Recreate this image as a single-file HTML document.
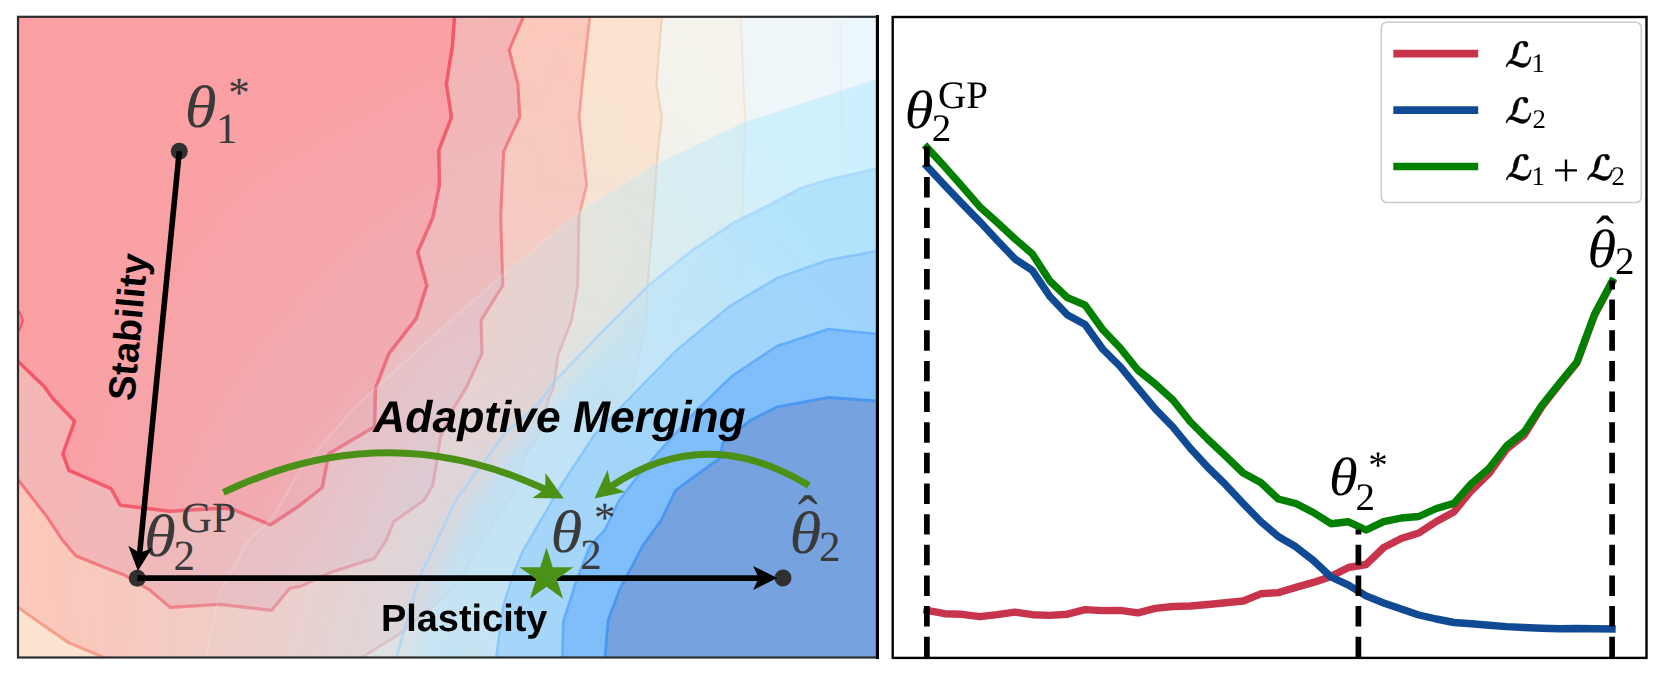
<!DOCTYPE html>
<html><head><meta charset="utf-8"><title>Adaptive Merging figure</title>
<style>html,body{margin:0;padding:0;background:#fff;overflow:hidden}svg{display:block}text{text-rendering:geometricPrecision}</style></head>
<body>
<svg width="1661" height="676" viewBox="0 0 1661 676">
<defs>
<clipPath id="cl"><rect x="18" y="17" width="860" height="641"/></clipPath>
<filter id="blur" x="-20%" y="-20%" width="140%" height="140%"><feGaussianBlur stdDeviation="14"/></filter>
<linearGradient id="hzg" gradientUnits="userSpaceOnUse" x1="430" y1="0" x2="760" y2="0"><stop offset="0" stop-color="#fff"/><stop offset="1" stop-color="#000"/></linearGradient>
<mask id="hz" maskUnits="userSpaceOnUse" x="-300" y="-300" width="1800" height="1500"><rect x="-300" y="-300" width="1800" height="1500" fill="url(#hzg)"/></mask>
<linearGradient id="sg1" gradientUnits="userSpaceOnUse" x1="550" y1="410" x2="750" y2="210"><stop offset="0" stop-color="#fff"/><stop offset="1" stop-color="#000"/></linearGradient>
<linearGradient id="sg2" gradientUnits="userSpaceOnUse" x1="550" y1="410" x2="750" y2="210"><stop offset="0" stop-color="#000"/><stop offset="1" stop-color="#fff"/></linearGradient>
<mask id="mSoft" maskUnits="userSpaceOnUse" x="-300" y="-300" width="1800" height="1500"><rect x="-300" y="-300" width="1800" height="1500" fill="url(#sg1)"/></mask>
<mask id="mSharp" maskUnits="userSpaceOnUse" x="-300" y="-300" width="1800" height="1500"><rect x="-300" y="-300" width="1800" height="1500" fill="url(#sg2)"/></mask>
<filter id="blur2" x="-20%" y="-20%" width="140%" height="140%"><feGaussianBlur stdDeviation="11"/></filter>
<linearGradient id="gB0" gradientUnits="userSpaceOnUse" x1="300" y1="560" x2="800" y2="160"><stop offset="0" stop-color="#c0e4f6" stop-opacity="0.03"/><stop offset="0.45" stop-color="#b8e6fa" stop-opacity="0.12"/><stop offset="1" stop-color="#aeeafd" stop-opacity="0.5"/></linearGradient>
<linearGradient id="gLa" gradientUnits="userSpaceOnUse" x1="420" y1="620" x2="840" y2="230"><stop offset="0" stop-color="#c0e4f6" stop-opacity="0.82"/><stop offset="1" stop-color="#afe1fd" stop-opacity="0.9"/></linearGradient>
<linearGradient id="gLb" gradientUnits="userSpaceOnUse" x1="520" y1="620" x2="850" y2="300"><stop offset="0" stop-color="#a3d4f9" stop-opacity="0.92"/><stop offset="1" stop-color="#9ed4fc" stop-opacity="0.95"/></linearGradient>
</defs>
<rect width="1661" height="676" fill="#fff"/>
<g id="root" opacity="0.9999">
<g clip-path="url(#cl)">
<rect x="0" y="0" width="900" height="680" fill="#ebf6fd"/>
<path d="M840.0,10.0 L841.0,120.0 L839.0,250.0 L836.0,330.0 L836.0,680.0 L0.0,680.0 L0.0,0.0 Z" fill="#eff6fa"/>
<path d="M740.9,10.0 L740.9,17.0 L743.3,84.0 L745.4,118.7 L742.4,214.0 L737.9,276.4 L731.9,324.7 L722.0,390.0 L705.0,450.0 L680.0,510.0 L660.0,560.0 L645.0,610.0 L638.0,662.0 L0.0,680.0 L0.0,0.0 Z" fill="#f5f3ec"/>
<path d="M661.8,10.0 L661.8,17.0 L656.4,84.0 L661.8,117.2 L657.9,151.9 L653.4,214.0 L647.4,288.5 L645.8,324.7 L632.3,391.1 L629.2,408.0 L622.0,437.0 L615.0,470.0 L598.0,505.0 L575.0,540.0 L556.0,575.0 L535.0,610.0 L520.0,657.0 L518.0,662.0 L0.0,680.0 L0.0,0.0 Z" fill="#fde4cf"/>
<path d="M589.8,10.0 L589.8,17.0 L582.2,85.5 L579.2,117.2 L586.7,185.1 L579.0,216.0 L577.7,285.5 L571.7,320.2 L558.1,354.9 L553.5,388.1 L549.0,398.0 L538.5,437.2 L524.9,453.8 L517.3,488.6 L493.2,521.8 L473.6,556.5 L467.0,566.2 L454.9,586.3 L432.8,606.4 L398.6,634.6 L362.4,657.0 L355.0,662.0 L112.0,662.0 L102.6,657.0 L68.4,642.6 L42.2,624.5 L18.0,607.4 L10.0,602.0 L0.0,0.0 Z" fill="#fdc8bb"/>
<path d="M523.4,10.0 L523.4,17.0 L509.2,49.8 L517.9,84.0 L519.7,117.2 L503.7,151.3 L500.7,216.0 L502.8,285.5 L481.1,320.2 L482.0,353.4 L466.0,388.1 L453.9,408.0 L440.4,437.2 L432.8,485.5 L423.8,500.6 L393.6,521.8 L386.5,540.0 L374.2,558.5 L330.2,572.6 L300.0,586.6 L289.7,588.3 L271.6,610.4 L219.3,604.4 L170.0,607.4 L148.8,589.3 L122.7,574.2 L111.0,570.0 L76.0,556.0 L62.3,540.0 L46.2,515.7 L19.0,481.0 L10.0,470.0 L0.0,0.0 Z" fill="#f6b4b4"/>
<path d="M454.5,10.0 L454.5,17.0 L452.4,46.2 L446.4,84.0 L451.5,117.2 L438.8,150.4 L439.4,185.1 L432.8,217.6 L417.7,252.3 L426.8,285.5 L416.2,318.7 L389.0,353.4 L375.5,388.1 L374.5,426.7 L328.7,453.8 L322.3,487.5 L300.0,505.2 L270.5,524.8 L232.0,509.0 L221.3,508.2 L170.0,511.2 L120.2,505.2 L111.1,488.6 L68.9,470.4 L62.8,453.8 L74.6,421.2 L52.3,398.0 L44.2,386.6 L19.0,362.4 L10.0,354.0 L0.0,0.0 Z" fill="#fc9fa3"/>
<path d="M10,311 L19,311 L23.2,320.2 L19,331.2 L10,331 Z" fill="#f88" stroke="#f5495b" stroke-width="1.5"/>
<path d="M840.0,10.0 L841.0,120.0 L839.0,250.0 L836.0,330.0" fill="none" stroke="#f0d8c8" stroke-width="1.5" stroke-opacity="0.25" stroke-linejoin="round"/>
<path d="M740.9,10.0 L740.9,17.0 L743.3,84.0 L745.4,118.7 L742.4,214.0 L737.9,276.4 L731.9,324.7 L722.0,390.0 L705.0,450.0 L680.0,510.0 L660.0,560.0 L645.0,610.0 L638.0,662.0" fill="none" stroke="#f0c8a8" stroke-width="2" stroke-opacity="0.3" stroke-linejoin="round"/>
<path d="M661.8,10.0 L661.8,17.0 L656.4,84.0 L661.8,117.2 L657.9,151.9 L653.4,214.0 L647.4,288.5 L645.8,324.7 L632.3,391.1 L629.2,408.0 L622.0,437.0 L615.0,470.0 L598.0,505.0 L575.0,540.0 L556.0,575.0 L535.0,610.0 L520.0,657.0 L518.0,662.0" fill="none" stroke="#f2b090" stroke-width="2.2" stroke-opacity="0.45" stroke-linejoin="round"/>
<path d="M589.8,10.0 L589.8,17.0 L582.2,85.5 L579.2,117.2 L586.7,185.1 L579.0,216.0 L577.7,285.5 L571.7,320.2 L558.1,354.9 L553.5,388.1 L549.0,398.0 L538.5,437.2 L524.9,453.8 L517.3,488.6 L493.2,521.8 L473.6,556.5 L467.0,566.2 L454.9,586.3 L432.8,606.4 L398.6,634.6 L362.4,657.0 L355.0,662.0" fill="none" stroke="#f4766c" stroke-width="2.8" stroke-opacity="0.6" stroke-linejoin="round"/>
<path d="M10.0,602.0 L18.0,607.4 L42.2,624.5 L68.4,642.6 L102.6,657.0 L112.0,662.0" fill="none" stroke="#f58a70" stroke-width="3.0" stroke-opacity="0.75" stroke-linejoin="round"/>
<path d="M523.4,10.0 L523.4,17.0 L509.2,49.8 L517.9,84.0 L519.7,117.2 L503.7,151.3 L500.7,216.0 L502.8,285.5 L481.1,320.2 L482.0,353.4 L466.0,388.1 L453.9,408.0 L440.4,437.2 L432.8,485.5 L423.8,500.6 L393.6,521.8 L386.5,540.0 L374.2,558.5 L330.2,572.6 L300.0,586.6 L289.7,588.3 L271.6,610.4 L219.3,604.4 L170.0,607.4 L148.8,589.3 L122.7,574.2 L111.0,570.0 L76.0,556.0 L62.3,540.0 L46.2,515.7 L19.0,481.0 L10.0,470.0" fill="none" stroke="#f44d58" stroke-width="3.1" stroke-opacity="0.66" stroke-linejoin="round"/>
<path d="M454.5,10.0 L454.5,17.0 L452.4,46.2 L446.4,84.0 L451.5,117.2 L438.8,150.4 L439.4,185.1 L432.8,217.6 L417.7,252.3 L426.8,285.5 L416.2,318.7 L389.0,353.4 L375.5,388.1 L374.5,426.7 L328.7,453.8 L322.3,487.5 L300.0,505.2 L270.5,524.8 L232.0,509.0 L221.3,508.2 L170.0,511.2 L120.2,505.2 L111.1,488.6 L68.9,470.4 L62.8,453.8 L74.6,421.2 L52.3,398.0 L44.2,386.6 L19.0,362.4 L10.0,354.0" fill="none" stroke="#f53c50" stroke-width="3.5" stroke-opacity="0.8" stroke-linejoin="round"/>
<g filter="url(#blur)" mask="url(#hz)">
<path d="M40.6,742.0 L40.0,722.1 L39.4,702.3 L38.8,682.4 L38.2,662.6 L35.1,642.6 L31.1,622.5 L26.5,602.4 L25.5,582.2 L22.8,561.0 L20.1,539.8 L17.0,518.3 L11.3,494.7 L11.2,473.1 L14.5,453.1 L17.8,433.0 L20.0,412.2 L21.4,390.8 L24.9,370.2 L32.2,351.3 L39.1,332.0 L45.4,312.0 L51.7,292.1 L58.0,272.2 L67.3,254.3 L79.0,238.0 L90.6,221.8 L102.2,205.4 L113.7,189.0 L125.2,172.5 L137.3,156.7 L154.1,146.1 L170.9,135.5 L188.8,126.4 L206.6,117.4 L224.7,108.7 L242.5,99.7 L260.1,90.5 L277.6,81.2 L295.2,71.9 L312.6,62.4 L330.9,54.8 L349.7,48.4 L368.6,42.1 L387.4,35.7 L406.2,29.1 L424.5,21.4 L442.8,13.6 L461.1,5.9 L479.4,-1.7 L497.8,-9.3 L516.2,-16.8 L534.6,-24.2 L553.2,-31.0 L572.7,-35.1 L592.1,-39.1 L611.5,-43.2 L630.9,-47.2 L650.4,-51.3 L669.8,-55.3 L1200.0,-55.3 L1200.0,900.0 L40.6,900.0 Z" fill="#c6e0f2" fill-opacity="0.0400"/>
<path d="M90.1,742.0 L90.0,722.3 L89.9,702.6 L89.8,682.9 L89.7,663.2 L88.5,643.5 L86.9,623.7 L85.1,604.0 L86.0,584.3 L87.0,564.4 L88.1,544.5 L89.1,524.6 L89.6,504.3 L93.1,484.7 L98.4,465.6 L103.7,446.6 L108.7,427.4 L113.6,408.1 L120.0,389.4 L128.9,371.7 L137.8,354.1 L146.6,336.3 L155.4,318.5 L164.2,300.7 L175.0,284.3 L187.5,269.0 L200.0,253.8 L212.5,238.5 L224.9,223.2 L237.4,207.9 L250.3,193.0 L266.5,181.9 L282.8,170.8 L299.8,160.7 L316.7,150.7 L333.9,140.9 L351.1,131.4 L368.4,121.8 L385.6,112.2 L402.8,102.7 L420.0,93.0 L438.1,85.2 L456.5,78.3 L475.0,71.4 L493.4,64.4 L511.8,57.4 L530.2,50.2 L548.5,43.0 L566.9,35.8 L585.2,28.7 L603.6,21.6 L622.0,14.6 L640.4,7.6 L659.1,1.3 L678.4,-2.7 L697.7,-6.7 L716.9,-10.7 L736.2,-14.8 L755.5,-18.8 L774.8,-22.8 L1200.0,-22.8 L1200.0,900.0 L90.1,900.0 Z" fill="#c6e0f2" fill-opacity="0.0521"/>
<path d="M139.6,742.0 L140.0,722.4 L140.4,702.9 L140.7,683.3 L141.1,663.8 L141.9,644.4 L142.7,625.0 L143.8,605.6 L146.5,586.4 L151.3,567.8 L156.1,549.3 L161.1,530.9 L167.8,513.8 L175.1,496.3 L182.3,478.2 L189.5,460.2 L197.5,442.6 L205.8,425.4 L215.0,408.5 L225.7,392.2 L236.5,376.1 L247.8,360.5 L259.1,344.8 L270.3,329.1 L282.8,314.3 L296.1,300.0 L309.4,285.7 L322.8,271.5 L336.2,257.4 L349.6,243.2 L363.3,229.3 L379.0,217.7 L394.7,206.0 L410.8,195.0 L426.9,183.9 L443.0,173.0 L459.8,163.0 L476.7,153.1 L493.6,143.3 L510.5,133.4 L527.4,123.7 L545.3,115.7 L563.3,108.2 L581.3,100.7 L599.4,93.1 L617.5,85.8 L635.9,79.1 L654.2,72.4 L672.6,65.7 L691.0,59.1 L709.4,52.5 L727.8,46.0 L746.3,39.4 L764.9,33.6 L784.1,29.6 L803.2,25.7 L822.4,21.7 L841.5,17.7 L860.7,13.7 L879.8,9.7 L1200.0,9.7 L1200.0,900.0 L139.6,900.0 Z" fill="#c6e0f2" fill-opacity="0.0769"/>
<path d="M189.1,742.0 L190.0,722.6 L190.8,703.2 L191.7,683.8 L192.5,664.4 L195.3,645.3 L198.5,626.2 L202.5,607.3 L207.0,588.5 L215.6,571.2 L224.2,554.0 L233.2,537.1 L246.0,523.3 L257.1,507.9 L266.3,490.8 L275.4,473.7 L286.2,457.8 L298.1,442.7 L310.1,427.6 L322.4,412.7 L335.2,398.2 L349.0,384.7 L362.8,371.2 L376.5,357.6 L390.5,344.2 L404.7,331.0 L418.8,317.7 L433.1,304.6 L447.4,291.5 L461.8,278.5 L476.3,265.6 L491.4,253.5 L506.6,241.3 L521.8,229.3 L537.0,217.2 L552.2,205.2 L568.4,194.6 L585.0,184.5 L601.5,174.3 L618.1,164.1 L634.9,154.4 L652.5,146.2 L670.1,138.1 L687.7,130.0 L705.3,121.8 L723.1,114.1 L741.5,107.9 L760.0,101.8 L778.4,95.7 L796.8,89.6 L815.2,83.4 L833.6,77.3 L852.1,71.2 L870.7,66.0 L889.8,62.0 L908.8,58.0 L927.8,54.1 L946.8,50.1 L965.8,46.2 L984.8,42.2 L1200.0,42.2 L1200.0,900.0 L189.1,900.0 Z" fill="#c6e0f2" fill-opacity="0.0833"/>
<path d="M225.4,742.0 L226.4,723.1 L227.4,704.2 L228.4,685.3 L229.4,666.4 L232.4,647.7 L236.2,629.2 L240.9,610.8 L245.8,592.6 L254.6,575.9 L263.5,559.2 L272.8,542.9 L286.2,529.7 L297.5,514.8 L306.7,498.3 L316.0,481.8 L326.8,466.4 L339.1,452.0 L351.4,437.6 L363.7,423.2 L376.5,409.3 L390.2,396.3 L404.2,383.6 L418.3,370.9 L432.3,358.2 L446.0,345.2 L459.8,332.2 L473.8,319.5 L487.9,306.9 L502.0,294.3 L516.3,281.8 L530.8,269.7 L545.3,257.5 L559.8,245.4 L574.3,233.2 L588.9,221.2 L604.6,210.6 L620.5,200.4 L636.5,190.3 L652.5,180.2 L668.8,170.6 L685.8,162.3 L702.9,154.2 L720.0,146.1 L737.1,137.9 L754.3,130.1 L772.2,124.1 L790.3,118.3 L808.3,112.5 L826.3,106.8 L844.4,101.2 L862.5,95.5 L880.5,89.9 L898.8,85.0 L917.3,81.1 L935.9,77.3 L954.4,73.4 L972.9,69.6 L991.5,65.7 L1010.0,61.8 L1200.0,61.8 L1200.0,900.0 L225.4,900.0 Z" fill="#c6e0f2" fill-opacity="0.0909"/>
<path d="M272.3,742.0 L273.4,724.0 L274.5,705.9 L275.5,687.9 L276.6,669.9 L279.1,652.0 L283.1,634.4 L287.7,616.9 L292.4,599.5 L299.9,583.2 L307.7,567.0 L315.8,551.0 L327.4,537.5 L337.4,522.8 L345.9,506.9 L354.4,490.9 L364.1,475.9 L375.6,461.9 L387.0,448.0 L398.5,434.0 L410.3,420.4 L422.8,407.5 L436.1,395.3 L449.7,383.4 L462.8,371.1 L475.4,358.2 L488.0,345.3 L501.2,333.0 L514.4,320.7 L527.6,308.4 L540.9,296.2 L554.5,284.3 L568.1,272.4 L581.6,260.6 L595.2,248.7 L609.2,237.2 L623.9,226.8 L638.8,216.6 L653.9,206.7 L669.1,197.0 L684.5,187.6 L700.5,179.2 L716.7,171.4 L733.0,163.5 L749.3,155.6 L765.6,147.9 L782.5,141.9 L799.8,136.4 L817.0,131.1 L834.4,126.1 L851.7,121.0 L869.0,116.0 L886.4,111.1 L903.9,106.7 L921.6,103.0 L939.3,99.3 L956.9,95.6 L974.6,91.9 L992.3,88.3 L1010.0,84.6 L1200.0,84.6 L1200.0,900.0 L272.3,900.0 Z" fill="#c6e0f2" fill-opacity="0.1286"/>
<path d="M319.2,742.0 L320.3,724.8 L321.5,707.7 L322.7,690.5 L323.8,673.4 L325.8,656.3 L330.0,639.6 L334.4,623.0 L339.0,606.5 L345.2,590.6 L351.9,574.8 L358.7,559.2 L368.5,545.4 L377.2,530.8 L385.0,515.4 L392.8,500.1 L401.3,485.3 L412.0,471.8 L422.6,458.4 L433.3,444.9 L444.1,431.6 L455.4,418.7 L468.0,407.0 L481.0,395.8 L493.4,384.0 L504.8,371.2 L516.2,358.5 L528.5,346.5 L540.9,334.5 L553.2,322.5 L565.6,310.6 L578.2,299.0 L590.9,287.3 L603.5,275.7 L616.1,264.1 L629.5,253.2 L643.2,242.9 L657.1,232.8 L671.2,223.1 L685.7,213.7 L700.2,204.6 L715.1,196.1 L730.6,188.5 L746.0,181.0 L761.4,173.3 L776.8,165.7 L792.8,159.6 L809.3,154.5 L825.8,149.7 L842.4,145.3 L859.0,140.8 L875.6,136.5 L892.2,132.3 L909.0,128.4 L925.8,124.9 L942.6,121.4 L959.5,117.9 L976.3,114.3 L993.2,110.8 L1010.0,107.3 L1200.0,107.3 L1200.0,900.0 L319.2,900.0 Z" fill="#c6e0f2" fill-opacity="0.1639"/>
<path d="M366.1,742.0 L367.3,725.7 L368.6,709.4 L369.8,693.1 L371.0,676.9 L372.5,660.6 L376.8,644.9 L381.2,629.1 L385.6,613.4 L390.5,597.9 L396.1,582.6 L401.7,567.3 L409.7,553.2 L417.1,538.8 L424.1,524.0 L431.2,509.3 L438.6,494.8 L448.4,481.8 L458.2,468.7 L468.1,455.7 L478.0,442.7 L488.0,429.9 L499.9,418.8 L512.4,408.3 L524.0,396.9 L534.2,384.2 L544.5,371.6 L555.9,359.9 L567.3,348.3 L578.8,336.6 L590.2,325.0 L602.0,313.6 L613.7,302.2 L625.4,290.9 L637.1,279.5 L649.7,269.2 L662.5,259.1 L675.4,249.0 L688.6,239.5 L702.3,230.5 L715.9,221.5 L729.8,213.0 L744.4,205.7 L759.1,198.5 L773.6,191.0 L788.1,183.5 L803.1,177.4 L818.8,172.6 L834.5,168.3 L850.4,164.5 L866.2,160.6 L882.2,157.1 L898.1,153.5 L914.1,150.1 L930.0,146.7 L946.0,143.4 L962.0,140.1 L978.0,136.7 L994.0,133.4 L1010.0,130.1 L1200.0,130.1 L1200.0,900.0 L366.1,900.0 Z" fill="#c6e0f2" fill-opacity="0.1569"/>
<path d="M403.6,742.0 L404.9,726.4 L406.2,710.8 L407.5,695.2 L408.8,679.6 L409.9,664.0 L414.3,649.0 L418.6,634.0 L422.9,619.0 L426.8,603.8 L431.4,588.8 L436.0,573.8 L442.6,559.5 L449.0,545.1 L455.5,530.9 L461.9,516.7 L468.4,502.4 L477.6,489.7 L486.7,477.0 L495.9,464.4 L505.0,451.6 L514.0,438.8 L525.4,428.2 L537.5,418.3 L548.5,407.3 L557.7,394.6 L567.1,382.1 L577.8,370.7 L588.5,359.3 L599.2,347.9 L610.0,336.5 L620.9,325.3 L631.9,314.2 L642.8,303.0 L653.8,291.8 L665.9,282.0 L678.0,272.0 L690.0,261.9 L702.5,252.6 L715.5,243.9 L728.5,235.1 L741.5,226.5 L755.5,219.5 L769.5,212.4 L783.3,205.2 L797.1,197.7 L811.4,191.6 L826.4,187.1 L841.5,183.2 L856.8,179.8 L872.1,176.5 L887.4,173.5 L902.8,170.5 L918.1,167.4 L933.4,164.2 L948.8,161.0 L964.1,157.8 L979.4,154.7 L994.7,151.5 L1010.0,148.3 L1200.0,148.3 L1200.0,900.0 L403.6,900.0 Z" fill="#c6e0f2" fill-opacity="0.0698"/>
</g>
<path d="M205.0,662.0 L206.0,657.0 L211.0,630.0 L221.0,590.0 L249.0,540.0 L272.0,519.0 L300.0,470.0 L354.0,408.0 L451.0,320.0 L499.0,278.0 L582.0,210.0 L656.0,164.0 L745.0,122.0 L877.0,79.0 L890.0,75.0 L900.0,75.0 L900.0,680.0 L205.0,680.0 Z" fill="url(#gB0)"/>
<g mask="url(#mSoft)"><g filter="url(#blur2)"><path d="M405.7,742.0 L406.7,726.5 L407.8,710.9 L408.9,695.4 L410.0,679.9 L411.1,664.3 L414.8,649.3 L418.7,634.2 L422.6,619.2 L426.6,604.1 L431.1,589.2 L436.0,574.5 L442.7,560.4 L449.1,546.3 L455.6,532.1 L462.3,518.1 L469.1,504.1 L478.2,491.4 L487.2,478.7 L496.2,466.1 L505.3,453.4 L514.5,440.8 L525.4,429.9 L536.9,419.5 L547.5,408.3 L557.1,396.0 L566.8,383.9 L577.6,372.6 L588.4,361.4 L599.1,350.1 L610.0,338.9 L621.0,327.9 L631.9,316.9 L643.0,305.9 L654.2,295.1 L666.3,285.2 L678.3,275.4 L690.4,265.5 L702.9,256.3 L716.0,247.8 L729.0,239.2 L742.1,230.9 L756.0,223.9 L770.1,217.2 L784.0,210.3 L797.9,203.3 L812.3,197.6 L827.2,193.3 L842.3,189.5 L857.5,186.1 L872.8,182.8 L888.0,179.6 L903.3,176.5 L918.5,173.3 L933.8,170.2 L949.0,167.0 L964.3,163.8 L979.5,160.6 L994.8,157.5 L1010.0,154.3 L1200.0,154.3 L1200.0,900.0 L405.7,900.0 Z" fill="url(#gLa)"/></g></g>
<g mask="url(#mSharp)"><path d="M395.0,662.0 L396.6,657.0 L412.7,600.0 L422.7,570.0 L430.0,556.0 L456.0,500.0 L506.0,432.0 L535.0,408.0 L557.0,379.0 L600.0,334.0 L647.0,287.0 L690.0,252.0 L735.0,222.0 L771.0,204.0 L801.0,188.0 L831.0,179.0 L877.0,168.5 L890.0,166.0 L900.0,166.0 L900.0,680.0 L395.0,680.0 Z" fill="url(#gLa)"/></g>
<path d="M496.0,662.0 L496.2,657.0 L503.2,606.0 L513.3,574.0 L522.5,551.5 L560.8,486.0 L595.0,434.0 L620.0,408.0 L674.5,352.0 L729.0,306.6 L777.0,278.0 L828.5,260.0 L877.0,251.0 L890.0,249.0 L900.0,249.0 L900.0,680.0 L496.0,680.0 Z" fill="url(#gLb)"/>
<path d="M562.4,662.0 L562.4,657.0 L563.2,621.7 L570.3,600.0 L575.5,582.9 L590.0,546.0 L605.0,529.6 L619.0,500.5 L641.0,472.0 L667.5,442.0 L699.0,408.0 L732.0,376.0 L777.0,346.0 L828.5,329.0 L877.0,334.0 L890.0,335.0 L900.0,335.0 L900.0,680.0 L562.4,680.0 Z" fill="#7dbdfb" fill-opacity="0.95"/>
<path d="M605.0,662.0 L605.1,657.0 L608.0,620.5 L619.9,588.8 L630.0,570.0 L643.6,544.4 L661.0,520.6 L675.5,490.4 L720.0,458.0 L722.8,443.3 L750.0,420.6 L777.0,407.0 L828.5,397.5 L877.0,401.0 L890.0,402.0 L900.0,402.0 L900.0,680.0 L605.0,680.0 Z" fill="#76a3df" fill-opacity="1"/>
<path d="M102.0,662.0 L102.0,657.0 L99.0,600.0 L109.0,500.0 L139.5,400.0 L193.7,300.0 L275.6,203.0 L310.0,179.0 L354.0,152.0 L451.0,97.5 L600.0,40.0 L661.0,17.0 L680.0,10.0" fill="none" stroke="#ffffff" stroke-width="2" stroke-opacity="0.025" stroke-linejoin="round"/>
<path d="M205.0,662.0 L206.0,657.0 L211.0,630.0 L221.0,590.0 L249.0,540.0 L272.0,519.0 L300.0,470.0 L354.0,408.0 L451.0,320.0 L499.0,278.0 L582.0,210.0 L656.0,164.0 L745.0,122.0 L877.0,79.0 L890.0,75.0" fill="none" stroke="#eef4fb" stroke-width="2.8" stroke-opacity="0.16" stroke-linejoin="round"/>
<path d="M395.0,662.0 L396.6,657.0 L412.7,600.0 L422.7,570.0 L430.0,556.0 L456.0,500.0 L506.0,432.0 L535.0,408.0 L557.0,379.0 L600.0,334.0 L647.0,287.0 L690.0,252.0 L735.0,222.0 L771.0,204.0 L801.0,188.0 L831.0,179.0 L877.0,168.5 L890.0,166.0" fill="none" stroke="#a2d4fc" stroke-width="2.8" stroke-opacity="0.7" stroke-linejoin="round"/>
<path d="M496.0,662.0 L496.2,657.0 L503.2,606.0 L513.3,574.0 L522.5,551.5 L560.8,486.0 L595.0,434.0 L620.0,408.0 L674.5,352.0 L729.0,306.6 L777.0,278.0 L828.5,260.0 L877.0,251.0 L890.0,249.0" fill="none" stroke="#7fc0fb" stroke-width="2.4" stroke-opacity="0.8" stroke-linejoin="round"/>
<path d="M562.4,662.0 L562.4,657.0 L563.2,621.7 L570.3,600.0 L575.5,582.9 L590.0,546.0 L605.0,529.6 L619.0,500.5 L641.0,472.0 L667.5,442.0 L699.0,408.0 L732.0,376.0 L777.0,346.0 L828.5,329.0 L877.0,334.0 L890.0,335.0" fill="none" stroke="#5aa8fa" stroke-width="2.6" stroke-opacity="0.85" stroke-linejoin="round"/>
<path d="M605.0,662.0 L605.1,657.0 L608.0,620.5 L619.9,588.8 L630.0,570.0 L643.6,544.4 L661.0,520.6 L675.5,490.4 L720.0,458.0 L722.8,443.3 L750.0,420.6 L777.0,407.0 L828.5,397.5 L877.0,401.0 L890.0,402.0" fill="none" stroke="#4595f2" stroke-width="2.8" stroke-opacity="0.9" stroke-linejoin="round"/>
</g>
<text transform="translate(184.7,127.1) scale(1.08,1)" font-family="'Liberation Serif', 'DejaVu Serif', serif" font-style="italic" font-size="60" fill="#3a3a3a" fill-opacity="1">θ</text>
<text x="216" y="142.8" font-family="'Liberation Serif', 'DejaVu Serif', serif" font-size="43" fill="#3a3a3a" fill-opacity="1" >1</text>
<text x="228.2" y="107.0" font-family="'Liberation Serif', 'DejaVu Serif', serif" font-size="43" fill="#3a3a3a" fill-opacity="1" >*</text>
<text transform="translate(143.9,556) scale(1.08,1)" font-family="'Liberation Serif', 'DejaVu Serif', serif" font-style="italic" font-size="60" fill="#3a3a3a" fill-opacity="1">θ</text>
<text x="173.5" y="570" font-family="'Liberation Serif', 'DejaVu Serif', serif" font-size="43" fill="#3a3a3a" fill-opacity="1" >2</text>
<text x="180.9" y="532.3" font-family="'Liberation Serif', 'DejaVu Serif', serif" font-size="43" fill="#3a3a3a" fill-opacity="1" >GP</text>
<text transform="translate(550.6,552) scale(1.08,1)" font-family="'Liberation Serif', 'DejaVu Serif', serif" font-style="italic" font-size="60" fill="#3a3a3a" fill-opacity="1">θ</text>
<text x="580.3" y="568.8" font-family="'Liberation Serif', 'DejaVu Serif', serif" font-size="43" fill="#3a3a3a" fill-opacity="1" >2</text>
<text x="594.1" y="532.4" font-family="'Liberation Serif', 'DejaVu Serif', serif" font-size="43" fill="#3a3a3a" fill-opacity="1" >*</text>
<text transform="translate(789.4,553) scale(1.08,1)" font-family="'Liberation Serif', 'DejaVu Serif', serif" font-style="italic" font-size="60" fill="#3a3a3a" fill-opacity="1">θ</text>
<text x="819" y="561" font-family="'Liberation Serif', 'DejaVu Serif', serif" font-size="43" fill="#3a3a3a" fill-opacity="1" >2</text>
<text x="797.8" y="536.8" font-family="'Liberation Serif', 'DejaVu Serif', serif" font-size="60" fill="#3a3a3a" fill-opacity="1" >ˆ</text>
<circle cx="179.3" cy="151.3" r="8.5" fill="#303030"/>
<circle cx="137.3" cy="578.2" r="8.5" fill="#303030"/>
<circle cx="783" cy="578" r="8.5" fill="#303030"/>
<path d="M137.9,571.0 L128.3,545.7 L139.7,553.1 L152.2,548.1 Z" fill="#000"/>
<path d="M179.3,151.3 L139.7,553.1" stroke="#000" stroke-width="5.6" fill="none"/>
<path d="M777.3,578.1 L753.1,590.1 L758.8,578.1 L753.1,566.1 Z" fill="#000"/>
<path d="M137.3,578.1 L759.8,578.1" stroke="#000" stroke-width="5.6" fill="none"/>
<path d="M223.4,492.3 Q385.9,414.8 545.6,489.5" stroke="#4c9117" stroke-width="6.9" fill="none"/>
<path d="M563.8,498.5 L532.5,497.9 L545.2,488.8 L545.5,473.1 Z" fill="#4c9117"/>
<path d="M808.8,485.5 Q706.0,422.6 610.9,486.4" stroke="#4c9117" stroke-width="6.9" fill="none"/>
<path d="M594.4,498.5 L607.6,470.1 L610.9,485.5 L625.0,492.1 Z" fill="#4c9117"/>
<path d="M546.5,547.6 L552.8,567.2 L573.4,567.2 L556.8,579.2 L563.1,598.8 L546.5,586.7 L529.9,598.8 L536.2,579.2 L519.6,567.2 L540.2,567.2 Z" fill="#4c9117"/>
<text transform="translate(134.2,401.6) rotate(-84.7)" font-family="'Liberation Sans', 'DejaVu Sans', sans-serif" font-weight="bold" font-size="37.9" fill="#000">Stability</text>
<text x="381" y="631.3" font-family="'Liberation Sans', 'DejaVu Sans', sans-serif" font-weight="bold" font-size="37.9" fill="#000">Plasticity</text>
<text x="373.3" y="431.5" font-family="'Liberation Sans', 'DejaVu Sans', sans-serif" font-weight="bold" font-style="italic" font-size="44.4" fill="#000">Adaptive Merging</text>
<rect x="18" y="16.8" width="859" height="640.7" fill="none" stroke="#2b2d2e" stroke-width="2.2"/>
<rect x="875.9" y="15" width="3.1" height="644" fill="#000"/>
<path d="M927.0,610.4 L944.6,613.7 L962.1,614.3 L979.7,616.7 L997.3,614.6 L1014.8,612.1 L1032.4,614.7 L1049.9,615.4 L1067.5,614.2 L1085.1,609.6 L1102.6,610.6 L1120.2,610.4 L1137.8,612.9 L1155.3,608.4 L1172.9,606.5 L1190.5,606.0 L1208.0,604.5 L1225.6,602.7 L1243.2,601.0 L1260.7,593.8 L1278.3,592.6 L1295.8,587.4 L1313.4,582.4 L1331.0,576.4 L1348.5,567.5 L1366.1,564.5 L1383.7,547.5 L1401.2,538.5 L1418.8,533.0 L1436.4,521.5 L1453.9,512.0 L1471.5,490.5 L1489.0,473.5 L1506.6,449.0 L1524.2,435.0 L1541.7,407.0 L1559.3,384.5 L1576.9,363.0 L1594.4,315.5 L1612.0,282.6" fill="none" stroke="#c8344b" stroke-width="7.4" stroke-linejoin="round" stroke-linecap="square"/>
<path d="M927.0,166.4 L944.6,185.2 L962.1,203.6 L979.7,221.6 L997.3,240.6 L1014.8,258.8 L1032.4,270.5 L1049.9,296.5 L1067.5,315.0 L1085.1,324.5 L1102.6,349.0 L1120.2,366.5 L1137.8,388.0 L1155.3,409.0 L1172.9,427.0 L1190.5,448.5 L1208.0,467.5 L1225.6,484.7 L1243.2,503.5 L1260.7,521.5 L1278.3,536.5 L1295.8,546.8 L1313.4,560.5 L1331.0,577.0 L1348.5,585.2 L1366.1,595.8 L1383.7,603.0 L1401.2,609.0 L1418.8,615.0 L1436.4,619.0 L1453.9,622.5 L1471.5,623.8 L1489.0,625.3 L1506.6,626.6 L1524.2,627.5 L1541.7,628.2 L1559.3,628.7 L1576.9,628.5 L1594.4,628.7 L1612.0,629.0" fill="none" stroke="#104a94" stroke-width="7.4" stroke-linejoin="round" stroke-linecap="square"/>
<path d="M927.0,147.6 L944.6,166.6 L962.1,186.4 L979.7,206.7 L997.3,222.5 L1014.8,238.8 L1032.4,254.0 L1049.9,281.0 L1067.5,297.7 L1085.1,305.2 L1102.6,329.5 L1120.2,348.0 L1137.8,370.0 L1155.3,384.0 L1172.9,400.0 L1190.5,422.0 L1208.0,439.5 L1225.6,456.0 L1243.2,473.0 L1260.7,482.5 L1278.3,499.0 L1295.8,503.5 L1313.4,512.5 L1331.0,523.7 L1348.5,521.8 L1366.1,530.0 L1383.7,521.7 L1401.2,518.0 L1418.8,516.5 L1436.4,508.5 L1453.9,503.4 L1471.5,483.5 L1489.0,468.5 L1506.6,446.0 L1524.2,432.0 L1541.7,405.5 L1559.3,383.5 L1576.9,362.0 L1594.4,314.5 L1612.0,281.6" fill="none" stroke="#008000" stroke-width="7.4" stroke-linejoin="round" stroke-linecap="square"/>
<path d="M926.9,657.2 L926.9,146.5" stroke="#000" stroke-width="5.7" stroke-dasharray="20.45 10.2" fill="none"/>
<path d="M1358.4,657.2 L1358.4,529.4" stroke="#000" stroke-width="5.7" stroke-dasharray="20.45 10.2" fill="none"/>
<path d="M1612.1,657.2 L1612.1,280.4" stroke="#000" stroke-width="5.7" stroke-dasharray="20.45 10.2" fill="none"/>
<rect x="892.7" y="17" width="753.8" height="640.9" fill="none" stroke="#000" stroke-width="2.4"/>
<rect x="1381.3" y="22.3" width="260" height="180.2" rx="5.5" ry="5.5" fill="#fff" fill-opacity="0.8" stroke="#cccccc" stroke-width="1.6"/>
<path d="M1393.3,53.7 L1478.2,53.7" stroke="#c8344b" stroke-width="7.7"/>
<path d="M1393.3,110.2 L1478.2,110.2" stroke="#104a94" stroke-width="7.7"/>
<path d="M1393.3,166.5 L1478.2,166.5" stroke="#008000" stroke-width="7.7"/>
<text transform="translate(1504.7,67.2) skewX(-10) scale(0.9,1)" font-family="'DejaVu Sans', 'DejaVu Math TeX Gyre', sans-serif" font-weight="bold" font-size="34.6" fill="#000" stroke="#000" stroke-width="0.5">ℒ</text>
<text x="1531.6" y="71.5" font-family="'Liberation Serif', 'DejaVu Serif', serif" font-size="26.8" fill="#000" fill-opacity="1" >1</text>
<text transform="translate(1504.7,123.4) skewX(-10) scale(0.9,1)" font-family="'DejaVu Sans', 'DejaVu Math TeX Gyre', sans-serif" font-weight="bold" font-size="34.6" fill="#000" stroke="#000" stroke-width="0.5">ℒ</text>
<text x="1532.4" y="127.8" font-family="'Liberation Serif', 'DejaVu Serif', serif" font-size="26.8" fill="#000" fill-opacity="1" >2</text>
<text transform="translate(1505,179.8) skewX(-10) scale(0.9,1)" font-family="'DejaVu Sans', 'DejaVu Math TeX Gyre', sans-serif" font-weight="bold" font-size="34.6" fill="#000" stroke="#000" stroke-width="0.5">ℒ</text>
<text x="1531.6" y="185" font-family="'Liberation Serif', 'DejaVu Serif', serif" font-size="26.8" fill="#000" fill-opacity="1" >1</text>
<text x="1552.8" y="186.1" font-family="'Liberation Serif', 'DejaVu Serif', serif" font-size="47" fill="#000" fill-opacity="1" >+</text>
<text transform="translate(1586.2,179.8) skewX(-10) scale(0.9,1)" font-family="'DejaVu Sans', 'DejaVu Math TeX Gyre', sans-serif" font-weight="bold" font-size="34.6" fill="#000" stroke="#000" stroke-width="0.5">ℒ</text>
<text x="1611.5" y="185" font-family="'Liberation Serif', 'DejaVu Serif', serif" font-size="26.8" fill="#000" fill-opacity="1" >2</text>
<text transform="translate(904.8,127.6) scale(1.08,1)" font-family="'Liberation Serif', 'DejaVu Serif', serif" font-style="italic" font-size="54" fill="#000" fill-opacity="1">θ</text>
<text x="931.8" y="140.9" font-family="'Liberation Serif', 'DejaVu Serif', serif" font-size="39" fill="#000" fill-opacity="1" >2</text>
<text x="938" y="107.7" font-family="'Liberation Serif', 'DejaVu Serif', serif" font-size="39" fill="#000" fill-opacity="1" >GP</text>
<text transform="translate(1329,495.3) scale(1.08,1)" font-family="'Liberation Serif', 'DejaVu Serif', serif" font-style="italic" font-size="54" fill="#000" fill-opacity="1">θ</text>
<text x="1355.6" y="510.2" font-family="'Liberation Serif', 'DejaVu Serif', serif" font-size="39" fill="#000" fill-opacity="1" >2</text>
<text x="1368.3" y="478.1" font-family="'Liberation Serif', 'DejaVu Serif', serif" font-size="39" fill="#000" fill-opacity="1" >*</text>
<text transform="translate(1587.4,266.7) scale(1.08,1)" font-family="'Liberation Serif', 'DejaVu Serif', serif" font-style="italic" font-size="54" fill="#000" fill-opacity="1">θ</text>
<text x="1615.1" y="273.8" font-family="'Liberation Serif', 'DejaVu Serif', serif" font-size="39" fill="#000" fill-opacity="1" >2</text>
<text x="1595.9" y="252.7" font-family="'Liberation Serif', 'DejaVu Serif', serif" font-size="54" fill="#000" fill-opacity="1" >ˆ</text>
</g>
</svg>
</body></html>
